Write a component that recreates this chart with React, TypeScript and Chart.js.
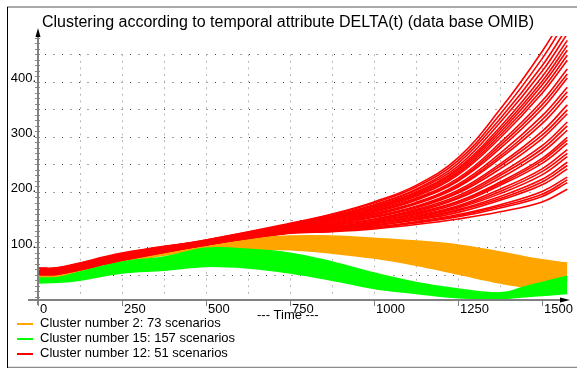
import React, { useEffect, useRef } from "react";
import { Chart, registerables } from "chart.js";

Chart.register(...registerables);

const TITLE = "Clustering according to temporal attribute DELTA(t) (data base OMIB)";
const X_LABEL = "--- Time ---";
const X_TICKS = [0, 250, 500, 750, 1000, 1250, 1500];
const Y_TICKS = [100, 200, 300, 400];
const Y_GRID = [50, 100, 150, 200, 250, 300, 350, 400, 450];
const X_GRID = [125, 250, 375, 500, 625, 750, 875, 1000, 1125, 1250, 1375, 1500];
const LEGEND_LABELS = [
  "Cluster number 2: 73 scenarios",
  "Cluster number 15: 157 scenarios",
  "Cluster number 12: 51 scenarios",
];
const ORANGE = "#FFA500";
const GREEN = "#00FF00";
const RED = "#FF0000";
const LEGEND_COLORS = [ORANGE, GREEN, RED];

// Cluster 2 (orange) and cluster 15 (green) envelopes
const BAND_TIME = [0, 60, 125, 250, 375, 500, 625, 750, 875, 1000, 1125, 1250, 1375, 1450, 1500, 1575];
const ORANGE_UPPER = [50, 51, 58, 80, 97, 108, 117, 120, 120, 116, 111, 104, 91, 82, 77, 71];
const ORANGE_LOWER = [44, 45, 50, 72, 85, 96, 95, 95, 89, 80, 67, 51, 35, 28, 30, 40];
const GREEN_UPPER = [44, 45, 55, 73, 82, 98, 96, 89, 73, 53, 36, 24, 17, 28, 36, 47];
const GREEN_LOWER = [35, 36, 40, 53, 58, 65, 62, 53, 40, 25, 16, 8, 7, 10, 12, 16];

// Cluster 12 (red) individual trajectories
const RED_TIME = [0, 60, 250, 500, 750, 875, 1000, 1125, 1250, 1375, 1500, 1575];
const RED_CURVES = [
  [50, 51, 76, 104, 125, 128, 133, 141, 151, 164, 182, 205],
  [50, 51, 76, 104, 126, 129, 135, 144, 155, 171, 192, 217],
  [51, 52, 77, 104, 126, 130, 136, 145, 157, 174, 196, 222],
  [51, 52, 77, 105, 126, 130, 136, 146, 159, 177, 201, 227],
  [51, 52, 77, 105, 127, 132, 139, 149, 163, 185, 213, 242],
  [52, 53, 78, 105, 127, 132, 139, 150, 166, 188, 218, 248],
  [52, 53, 78, 105, 128, 133, 140, 152, 168, 192, 223, 254],
  [52, 53, 78, 106, 128, 134, 142, 154, 171, 197, 231, 264],
  [52, 53, 79, 106, 129, 134, 143, 155, 173, 201, 237, 270],
  [53, 54, 79, 106, 129, 135, 144, 157, 175, 205, 242, 277],
  [53, 54, 79, 106, 130, 136, 146, 159, 179, 212, 252, 288],
  [53, 54, 80, 106, 130, 137, 146, 161, 182, 215, 257, 294],
  [53, 54, 80, 107, 130, 137, 147, 162, 183, 218, 261, 299],
  [54, 55, 80, 107, 131, 139, 149, 164, 188, 225, 272, 312],
  [54, 55, 81, 107, 131, 139, 150, 166, 190, 230, 278, 320],
  [55, 56, 81, 107, 132, 140, 151, 168, 193, 234, 284, 327],
  [55, 56, 81, 108, 133, 141, 154, 171, 198, 242, 297, 342],
  [55, 56, 82, 108, 133, 142, 155, 173, 200, 247, 303, 349],
  [56, 57, 82, 108, 133, 143, 156, 174, 203, 251, 310, 358],
  [56, 57, 83, 109, 134, 145, 158, 178, 209, 261, 324, 374],
  [57, 58, 83, 109, 135, 145, 160, 180, 211, 265, 331, 382],
  [57, 58, 83, 109, 135, 146, 161, 181, 214, 270, 338, 390],
  [57, 58, 84, 110, 136, 148, 163, 185, 220, 279, 351, 407],
  [58, 59, 84, 110, 137, 149, 165, 187, 222, 284, 358, 414],
  [58, 59, 85, 110, 137, 149, 166, 189, 225, 289, 365, 423],
  [59, 60, 85, 110, 138, 151, 168, 192, 231, 298, 379, 439],
  [59, 60, 86, 111, 138, 152, 170, 194, 234, 303, 386, 448],
  [59, 60, 86, 111, 139, 153, 171, 196, 237, 308, 394, 457],
  [60, 61, 86, 111, 139, 154, 172, 198, 240, 313, 401, 466],
  [60, 61, 87, 111, 140, 155, 174, 200, 243, 318, 409, 475],
  [60, 61, 87, 112, 141, 156, 176, 203, 247, 326, 419, 487],
  [61, 62, 88, 112, 141, 157, 177, 205, 252, 333, 429, 499],
  [61, 62, 88, 113, 142, 159, 180, 209, 257, 341, 442, 515],
  [62, 63, 89, 113, 143, 160, 182, 212, 262, 350, 455, 530],
];

const FONT = '"Liberation Sans", Arial, Helvetica, sans-serif';

const decorPlugin = {
  id: "decor",
  beforeDatasetsDraw(chart: any) {
    const { ctx, scales } = chart;
    const x = scales.x;
    const y = scales.y;
    ctx.save();
    ctx.strokeStyle = "#444";
    ctx.lineWidth = 1;
    ctx.setLineDash([1, 7.5]);
    const xStart = x.getPixelForValue(0) + 7;
    const xEnd = x.getPixelForValue(1500);
    Y_GRID.forEach((v) => {
      const py = Math.round(y.getPixelForValue(v)) + 0.5;
      ctx.beginPath();
      ctx.moveTo(xStart, py);
      ctx.lineTo(xEnd, py);
      ctx.stroke();
    });
    ctx.strokeStyle = "#b8b8b8";
    ctx.setLineDash([2, 4.6]);
    const yTop = y.getPixelForValue(450);
    const yBot = y.getPixelForValue(8);
    X_GRID.forEach((t) => {
      const px = Math.round(x.getPixelForValue(t)) + 0.5;
      ctx.beginPath();
      ctx.moveTo(px, yTop);
      ctx.lineTo(px, yBot);
      ctx.stroke();
    });
    ctx.restore();
  },
  afterDatasetsDraw(chart: any) {
    const { ctx, scales, chartArea } = chart;
    const x = scales.x;
    const y = scales.y;
    const ax = Math.round(x.getPixelForValue(0));
    const ay = Math.round(chartArea.bottom);
    ctx.save();
    ctx.setLineDash([]);
    ctx.strokeStyle = "#8a8a8a";
    ctx.lineWidth = 1;
    for (let v = 10; v <= 480; v += 10) {
      const py = Math.round(y.getPixelForValue(v)) + 0.5;
      if (py < 38) break;
      ctx.beginPath();
      ctx.moveTo(ax - 3, py);
      ctx.lineTo(ax + 2, py);
      ctx.stroke();
    }
    ctx.strokeStyle = "#808080";
    ctx.lineWidth = 2;
    ctx.beginPath();
    ctx.moveTo(ax, ay + 5);
    ctx.lineTo(ax, 34);
    ctx.stroke();
    ctx.beginPath();
    ctx.moveTo(28, ay);
    ctx.lineTo(562, ay);
    ctx.stroke();
    ctx.fillStyle = "#000";
    ctx.beginPath();
    ctx.moveTo(ax, 28);
    ctx.lineTo(ax - 2.5, 37);
    ctx.lineTo(ax + 2.5, 37);
    ctx.closePath();
    ctx.fill();
    ctx.beginPath();
    ctx.moveTo(570, ay);
    ctx.lineTo(560, ay - 2.5);
    ctx.lineTo(560, ay + 2.5);
    ctx.closePath();
    ctx.fill();
    ctx.strokeStyle = "#808080";
    ctx.lineWidth = 1;
    ctx.font = "13px " + FONT;
    ctx.textBaseline = "alphabetic";
    ctx.textAlign = "left";
    ctx.fillStyle = "#000";
    X_TICKS.forEach((t) => {
      const px = Math.round(x.getPixelForValue(t)) + 0.5;
      ctx.beginPath();
      ctx.moveTo(px, ay);
      ctx.lineTo(px, ay + 6);
      ctx.stroke();
      ctx.fillText(String(t), px + 1.5, ay + 13);
    });
    ctx.textAlign = "right";
    Y_TICKS.forEach((v) => {
      const py = y.getPixelForValue(v);
      ctx.fillText(String(v) + ".", ax - 2, py + 0.5);
    });
    ctx.textAlign = "left";
    ctx.fillText(X_LABEL, 257, 319);
    ctx.font = "16px " + FONT;
    ctx.fillText(TITLE, 42, 27);
    ctx.font = "13px " + FONT;
    LEGEND_LABELS.forEach((lab, i) => {
      const base = 327 + i * 15;
      ctx.strokeStyle = LEGEND_COLORS[i];
      ctx.lineWidth = 2;
      ctx.beginPath();
      ctx.moveTo(17, base - 3);
      ctx.lineTo(33, base - 3);
      ctx.stroke();
      ctx.fillStyle = "#000";
      ctx.fillText(lab, 40, base);
    });
    ctx.strokeStyle = "#8c8c8c";
    ctx.lineWidth = 1.5;
    ctx.beginPath();
    ctx.moveTo(7, 7);
    ctx.lineTo(577, 7);
    ctx.stroke();
    ctx.beginPath();
    ctx.moveTo(7, 367.5);
    ctx.lineTo(577, 367.5);
    ctx.stroke();
    ctx.strokeStyle = "#000";
    ctx.lineWidth = 1;
    ctx.beginPath();
    ctx.moveTo(7.5, 7);
    ctx.lineTo(7.5, 368);
    ctx.stroke();
    ctx.restore();
  },
};

function toPoints(times: number[], values: number[]) {
  return times.map((t, i) => ({ x: t, y: values[i] }));
}

export default function App() {
  const ref = useRef<HTMLCanvasElement>(null);
  useEffect(() => {
    if (!ref.current) return;
    const common = {
      pointRadius: 0,
      pointHoverRadius: 0,
      tension: 0.4,
    };
    const datasets: any[] = [];
    RED_CURVES.forEach((curve, i) => {
      datasets.push({
        ...common,
        label: "red " + i,
        data: toPoints(RED_TIME, curve),
        borderColor: RED,
        borderWidth: 1.6,
        fill: false,
      });
    });
    datasets.push({
      ...common,
      label: "green upper",
      data: toPoints(BAND_TIME, GREEN_UPPER),
      borderColor: GREEN,
      backgroundColor: GREEN,
      borderWidth: 1.5,
      fill: "+1",
    });
    datasets.push({
      ...common,
      label: "green lower",
      data: toPoints(BAND_TIME, GREEN_LOWER),
      borderColor: GREEN,
      borderWidth: 1.5,
      fill: false,
    });
    datasets.push({
      ...common,
      label: "orange upper",
      data: toPoints(BAND_TIME, ORANGE_UPPER),
      borderColor: ORANGE,
      backgroundColor: ORANGE,
      borderWidth: 1.5,
      fill: "+1",
    });
    datasets.push({
      ...common,
      label: "orange lower",
      data: toPoints(BAND_TIME, ORANGE_LOWER),
      borderColor: ORANGE,
      borderWidth: 1.5,
      fill: false,
    });

    const chart = new Chart(ref.current, {
      type: "line",
      data: { datasets },
      options: {
        responsive: false,
        animation: false,
        devicePixelRatio: 1,
        events: [],
        layout: { padding: { left: 38, right: 8, top: 36, bottom: 68 } },
        scales: {
          x: { type: "linear", min: 0, max: 1580, display: false },
          y: { type: "linear", min: 4, max: 483, display: false },
        },
        plugins: {
          legend: { display: false },
          title: { display: false },
          tooltip: { enabled: false },
        },
      },
      plugins: [decorPlugin],
    } as any);
    return () => chart.destroy();
  }, []);
  return (
    <canvas
      ref={ref}
      width={577}
      height={368}
      style={{ position: "fixed", left: 0, top: 0, width: 577, height: 368 }}
    />
  );
}
